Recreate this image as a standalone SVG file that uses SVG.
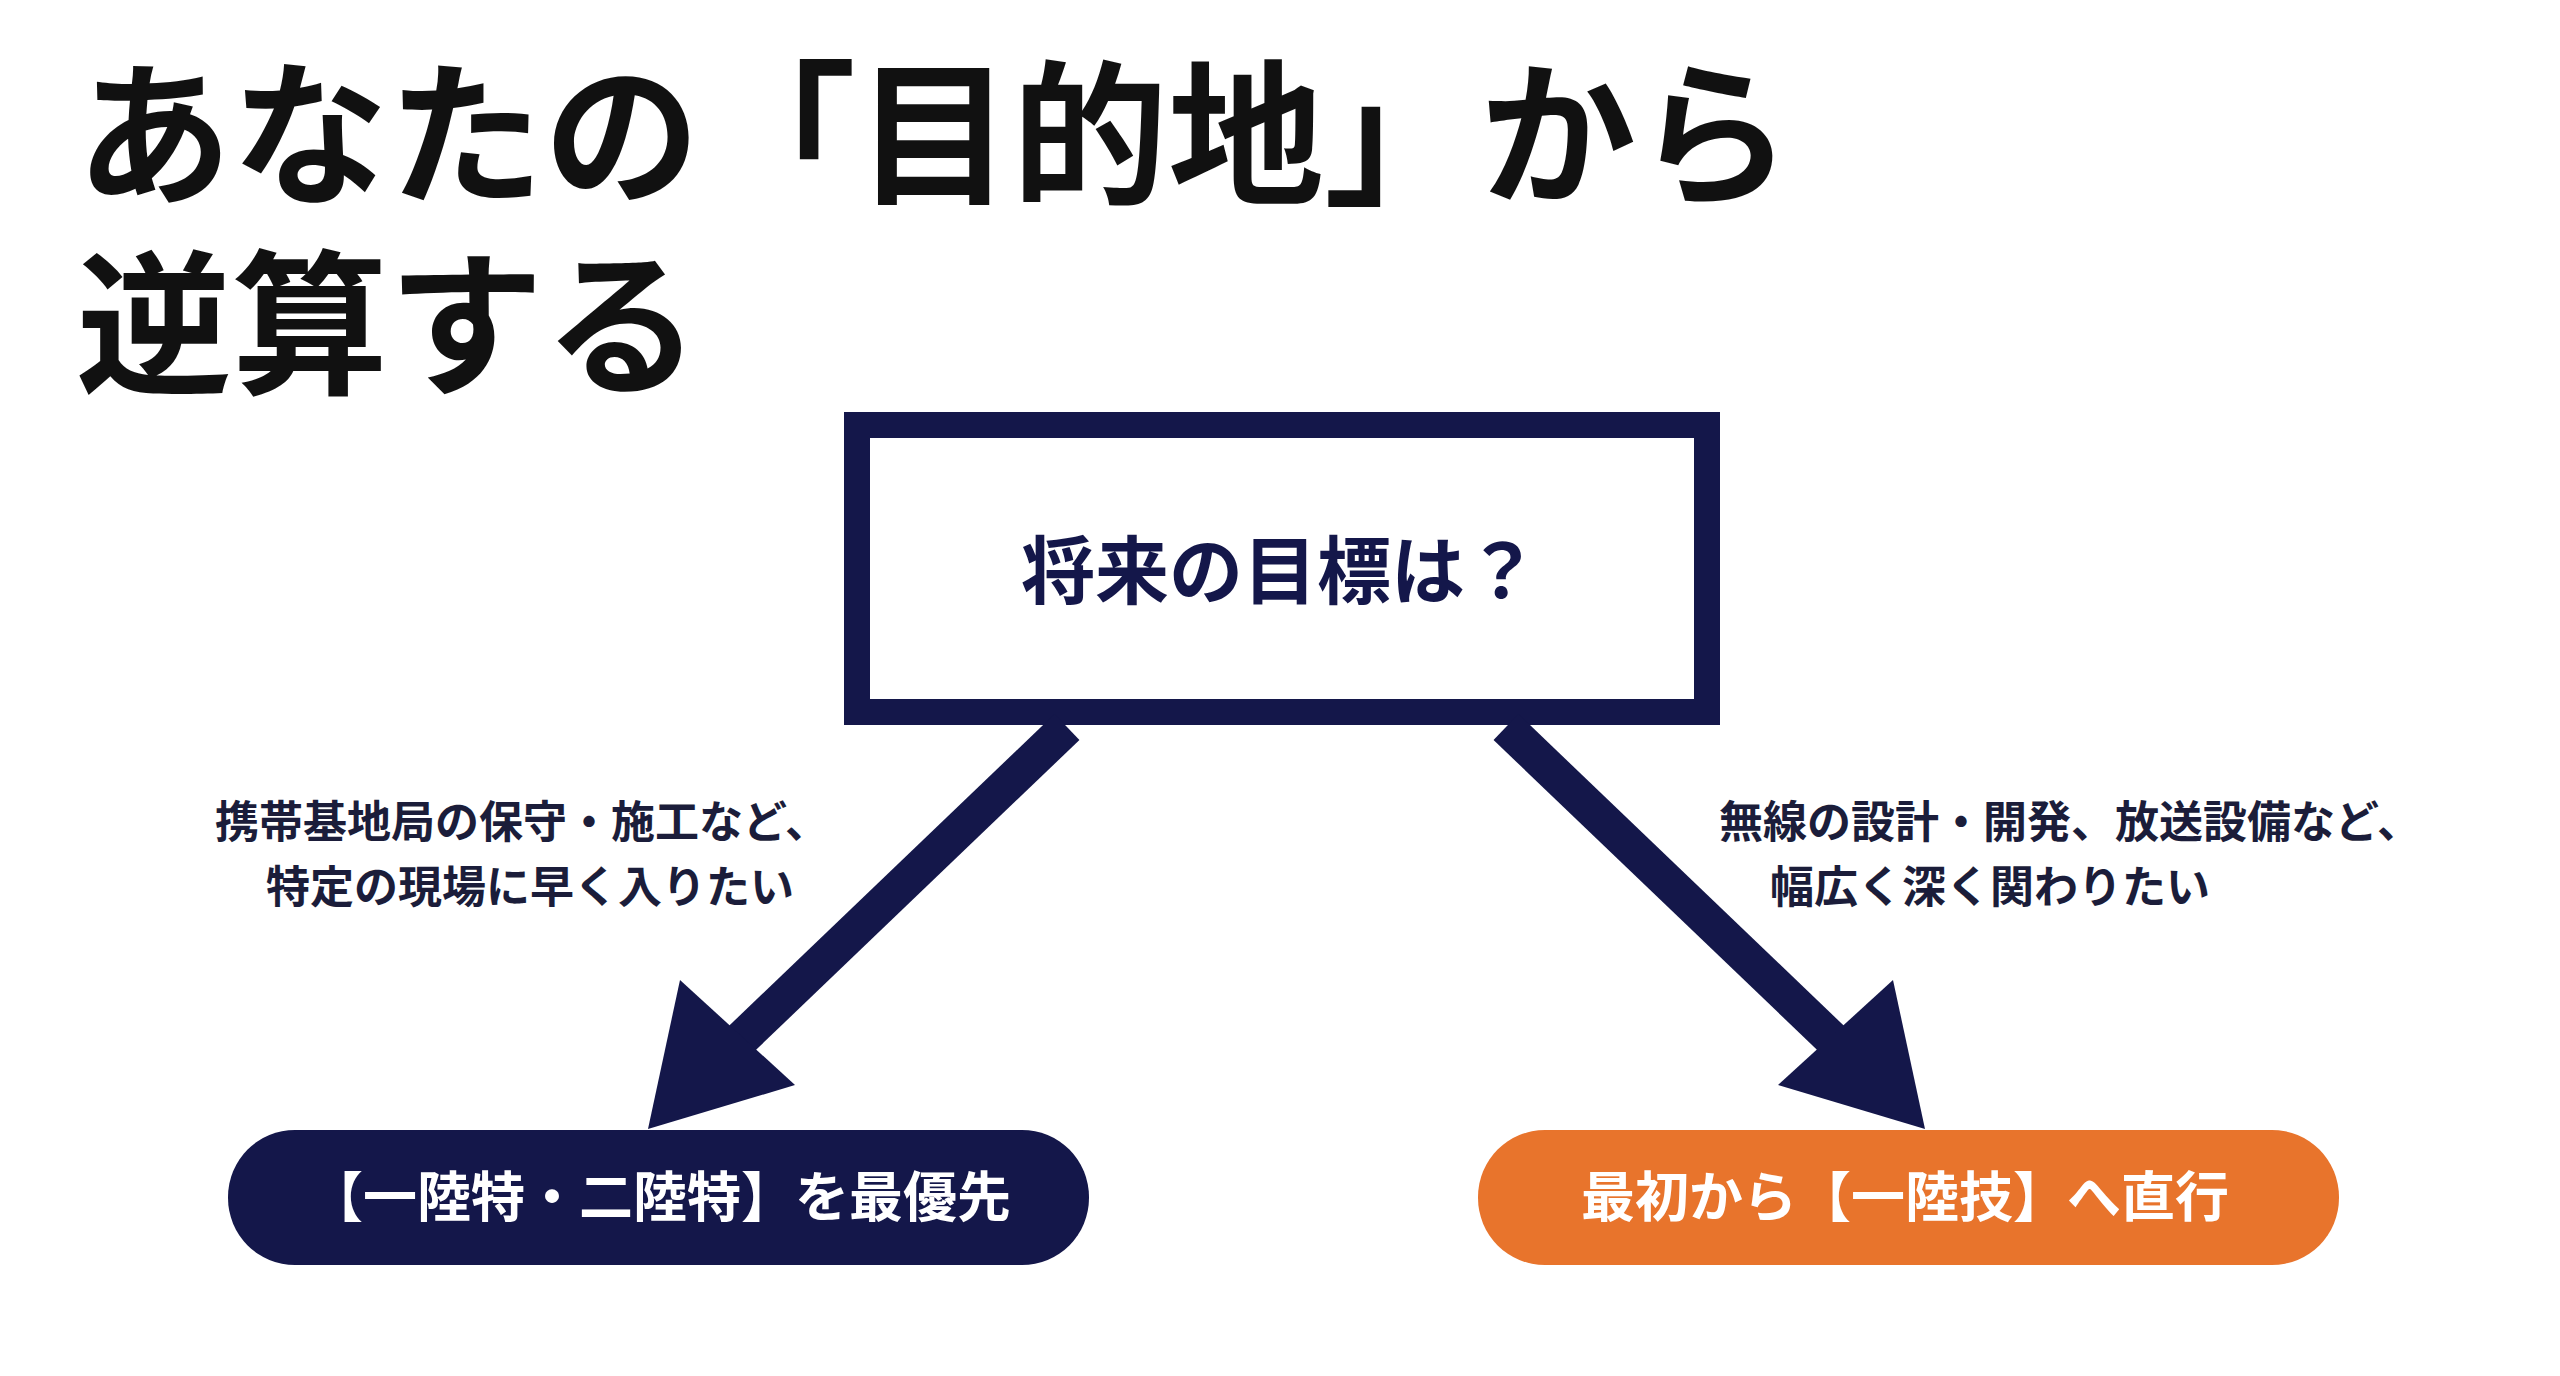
<svg xmlns="http://www.w3.org/2000/svg" width="2560" height="1376" viewBox="0 0 2560 1376">
<style>
text{font-family:"Noto Sans CJK JP","Noto Sans",sans-serif;font-weight:700}
.t{font-size:156px;fill:#111}
.l{font-size:44px;fill:#1b1d3a;text-anchor:middle}
.p{font-size:54px;fill:#fff;text-anchor:middle}
.a{stroke:#14174a;stroke-width:36;fill:none}
.h{fill:#14174a}
</style>
<rect width="2560" height="1376" fill="#fff"/>
<g id="title">
<text class="t" x="76" y="192">あなたの「目的地」から</text>
<text class="t" x="76" y="382">逆算する</text>
</g>
<g id="goal">
<rect x="857" y="425" width="850" height="287" fill="#fff" stroke="#14174a" stroke-width="26"/>
<text x="1280" y="598" font-size="74" fill="#14174a" text-anchor="middle">将来の目標は？</text>
</g>
<g id="connectors">
<line class="a" x1="1067" y1="727" x2="735" y2="1045"/>
<polygon class="h" points="648,1129 680,980 795,1085"/>
<line class="a" x1="1506" y1="727" x2="1838" y2="1045"/>
<polygon class="h" points="1925,1129 1778,1085 1893,980"/>
</g>
<g id="label-left">
<text class="l" x="522" y="838">携帯基地局の保守・施工など、</text>
<text class="l" x="530" y="903">特定の現場に早く入りたい</text>
</g>
<g id="label-right">
<text class="l" x="2070" y="838">無線の設計・開発、放送設備など、</text>
<text class="l" x="1990" y="903">幅広く深く関わりたい</text>
</g>
<g id="pill-left">
<rect x="228" y="1130" width="861" height="135" rx="67" fill="#14174a"/>
<text class="p" x="660" y="1217">【一陸特・二陸特】を最優先</text>
</g>
<g id="pill-right">
<rect x="1478" y="1130" width="861" height="135" rx="67" fill="#e8742c"/>
<text class="p" x="1905" y="1217">最初から【一陸技】へ直行</text>
</g>
</svg>
